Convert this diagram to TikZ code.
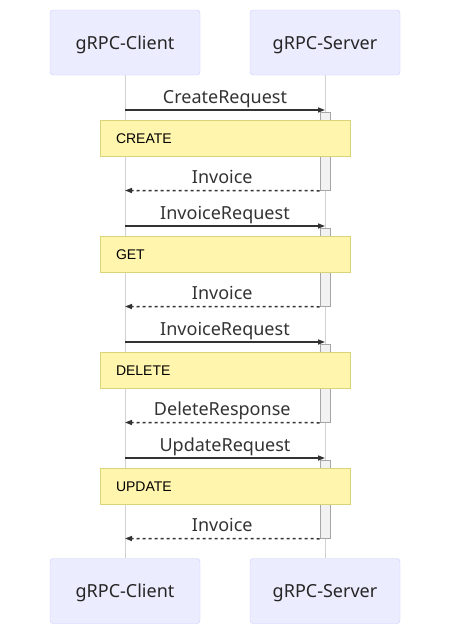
\documentclass[tikz,border=0pt]{standalone}
\usepackage{fontspec}
\setmainfont{Noto Sans}
\newfontfamily\notefont{Liberation Sans}
\usetikzlibrary{arrows.meta}

\definecolor{actorfill}{HTML}{ECECFF}
\definecolor{actorline}{HTML}{CCCCFF}
\definecolor{notefill}{HTML}{FFF5AD}
\definecolor{noteline}{HTML}{D8D47A}
\definecolor{msgline}{HTML}{333333}

\begin{document}
\begin{tikzpicture}[x=1pt,y=-1pt,>={Triangle[length=7pt,width=5pt]},
        actor/.style={draw=actorline,fill=actorfill,rounded corners=3pt,
          minimum width=150pt,minimum height=65pt,text depth=0pt,
          font=\fontsize{18}{20}\selectfont,text=black!85},
        life/.style={draw=black!18,line width=1pt},
        act/.style={draw=black!35,fill=black!5,line width=1pt,
          minimum width=10pt,minimum height=78pt,inner sep=0pt},
        note/.style={draw=noteline,fill=notefill,line width=1pt,
          minimum height=36pt,inner xsep=16pt,text width=218pt,align=left,
          font=\notefont\fontsize{14}{16}\selectfont},
        msg/.style={->,draw=msgline,line width=1.5pt},
        reply/.style={msg,dash pattern=on 3pt off 3pt},
        lbl/.style={midway,anchor=base,yshift=7pt,text=msgline,
          font=\fontsize{18}{20}\selectfont}]

  \useasboundingbox (0,0) rectangle (450,625);

  \node[actor] (client) at (125,42.5) {gRPC-Client};
  \node[actor] (server) at (325,42.5) {gRPC-Server};
  \node[actor] (client2) at (125,591) {gRPC-Client};
  \node[actor] (server2) at (325,591) {gRPC-Server};

  \draw[life] (client) -- (client2);
  \draw[life] (server) -- (server2);

  % create
  \coordinate (c1) at (125,110);
  \coordinate (s1) at (325,110);
  \coordinate (r1) at (125,190.5);
  \node[act] (a1) at (325,151.25) {};
  \draw[msg] (c1) -- (s1) node[lbl] {CreateRequest};
  \draw[reply] (a1.south west) -- (r1) node[lbl] {Invoice};
  \node[note] (n1) at (225,138.5) {CREATE};

  % get
  \coordinate (c2) at (125,226);
  \coordinate (s2) at (325,226);
  \coordinate (r2) at (125,306.5);
  \node[act] (a2) at (325,267.25) {};
  \draw[msg] (c2) -- (s2) node[lbl] {InvoiceRequest};
  \draw[reply] (a2.south west) -- (r2) node[lbl] {Invoice};
  \node[note] (n2) at (225,254.5) {GET};

  % delete
  \coordinate (c3) at (125,342);
  \coordinate (s3) at (325,342);
  \coordinate (r3) at (125,422.5);
  \node[act] (a3) at (325,383.25) {};
  \draw[msg] (c3) -- (s3) node[lbl] {InvoiceRequest};
  \draw[reply] (a3.south west) -- (r3) node[lbl] {DeleteResponse};
  \node[note] (n3) at (225,370.5) {DELETE};

  % update
  \coordinate (c4) at (125,458);
  \coordinate (s4) at (325,458);
  \coordinate (r4) at (125,538.5);
  \node[act] (a4) at (325,499.25) {};
  \draw[msg] (c4) -- (s4) node[lbl] {UpdateRequest};
  \draw[reply] (a4.south west) -- (r4) node[lbl] {Invoice};
  \node[note] (n4) at (225,486.5) {UPDATE};

\end{tikzpicture}
\end{document}
